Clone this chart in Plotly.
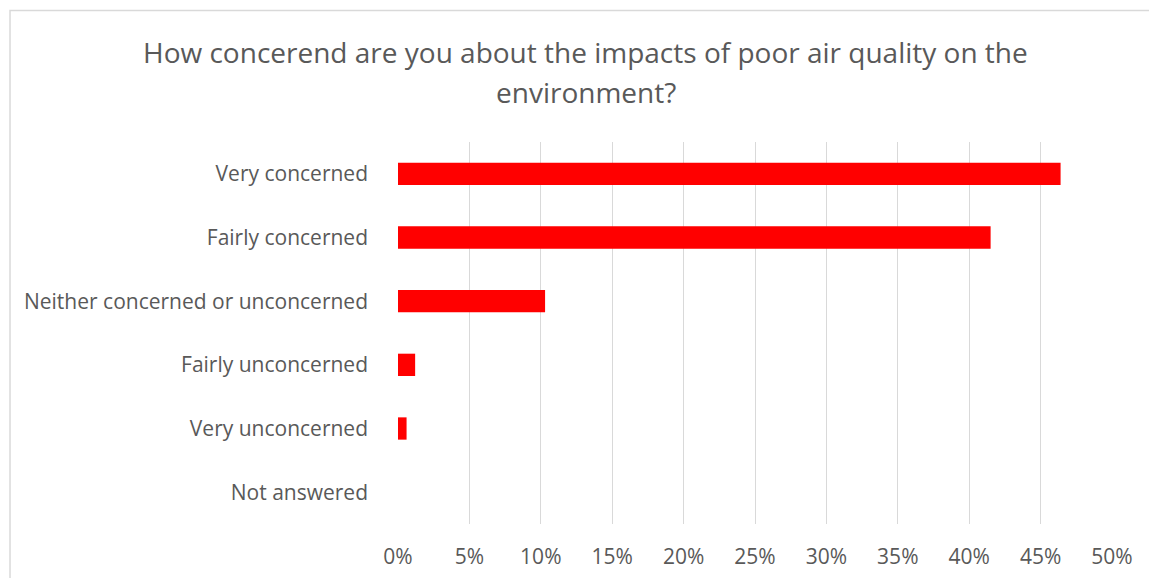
import plotly.graph_objects as go

categories = ["Very concerned", "Fairly concerned", "Neither concerned or unconcerned",
              "Fairly unconcerned", "Very unconcerned", "Not answered"]
values = [0.464, 0.415, 0.103, 0.012, 0.006, 0.0]
x_ticks = [0, 0.05, 0.10, 0.15, 0.20, 0.25, 0.30, 0.35, 0.40, 0.45, 0.50]
x_tick_labels = ["0%", "5%", "10%", "15%", "20%", "25%", "30%", "35%", "40%", "45%", "50%"]
title_lines = ["How concerend are you about the impacts of poor air quality on the",
               "environment?"]

FONT = "Open Sans"
GREY = "#595959"

fig = go.Figure(go.Bar(
    x=values, y=categories, orientation="h",
    marker=dict(color="#ff0000", line=dict(width=0)),
    width=0.35,
))

annotations = []
for txt, yy in zip(title_lines, [1.2356, 1.1309]):
    annotations.append(dict(text=txt, xref="paper", yref="paper", x=0.2633, y=yy,
                            xanchor="center", yanchor="middle", showarrow=False,
                            font=dict(family=FONT, size=28, color=GREY)))

fig.update_layout(
    width=1149, height=578,
    margin=dict(l=398, r=37, t=142, b=54),
    paper_bgcolor="white", plot_bgcolor="white",
    showlegend=False,
    font=dict(family=FONT, size=21, color=GREY),
    xaxis=dict(range=[0, 0.5], tickvals=x_ticks, ticktext=x_tick_labels,
               showgrid=True, gridcolor="#d9d9d9", gridwidth=1.3,
               zeroline=False, showline=False, ticks="", ticklen=0,
               ticklabelstandoff=18, automargin=False,
               tickfont=dict(family=FONT, size=21, color=GREY)),
    yaxis=dict(autorange="reversed", showgrid=False, zeroline=False, showline=False,
               ticks="", ticklabelstandoff=29, automargin=False,
               tickfont=dict(family=FONT, size=21, color=GREY)),
    annotations=annotations,
    shapes=[dict(type="rect", xref="paper", yref="paper", x0=-0.5434, x1=1.1, y0=-0.2, y1=1.344,
                 line=dict(color="#d9d9d9", width=1.5), fillcolor="rgba(0,0,0,0)")],
)

fig.write_html("out.html")
